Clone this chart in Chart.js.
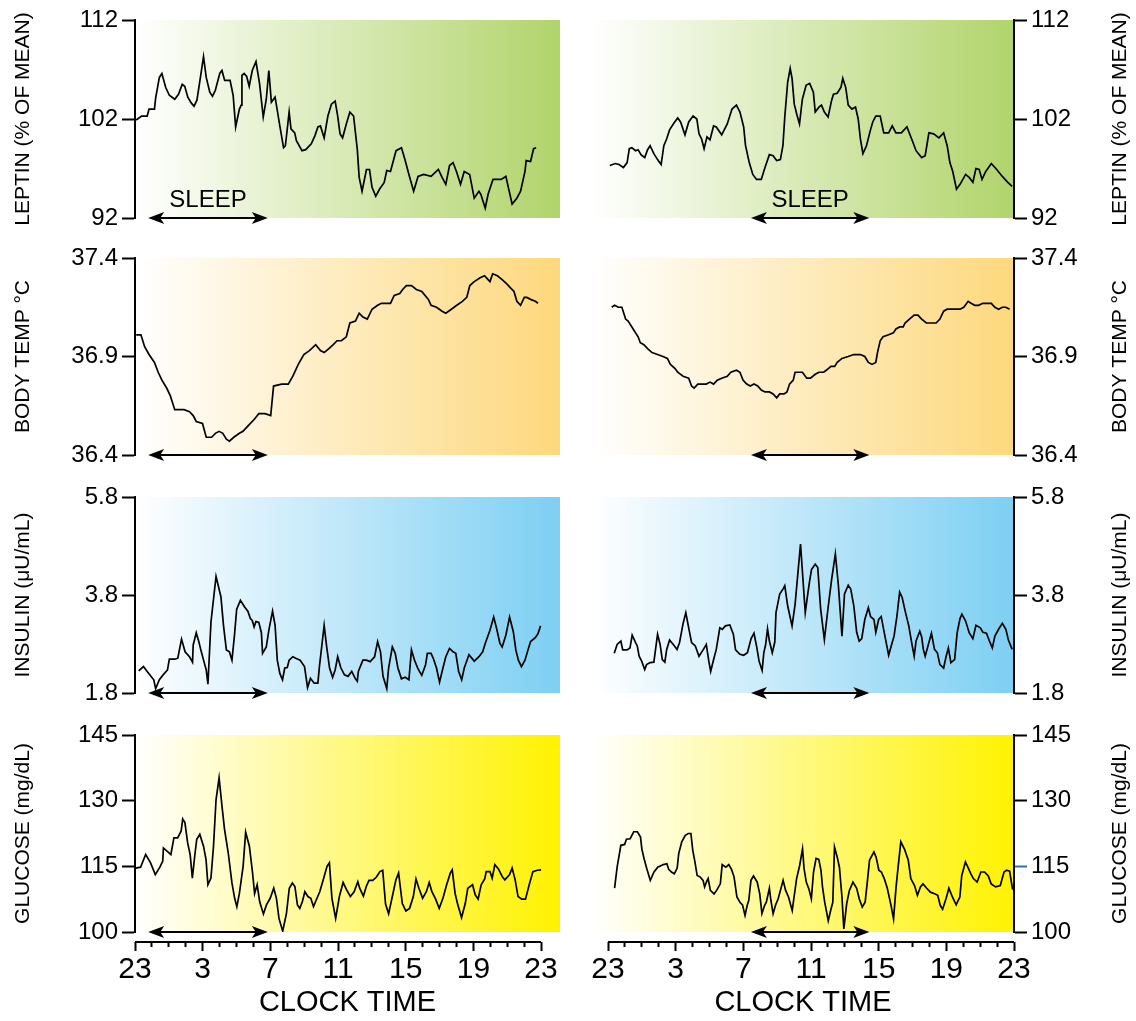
<!DOCTYPE html>
<html>
<head>
<meta charset="utf-8">
<script src="https://cdn.jsdelivr.net/npm/chart.js@4.4.1/dist/chart.umd.min.js"></script>
<style>
html, body { margin: 0; padding: 0; background: #fff; }
#wrap { position: relative; width: 1136px; height: 1021px; overflow: hidden; }
canvas { position: absolute; }
</style>
</head>
<body>
<div id="wrap"></div>
<script>
Chart.defaults.font.family = '"Liberation Sans", Arial, Helvetica, sans-serif';
Chart.defaults.color = '#000';

// hours after 23:00, one tick each hour
var clockHours = [0,1,2,3,4,5,6,7,8,9,10,11,12,13,14,15,16,17,18,19,20,21,22,23,24];
var clockLabels = ['23','3','7','11','15','19','23'];

var leptinTicks = [92, 102, 112];
var tempTicks = [36.4, 36.9, 37.4];
var insulinTicks = [1.8, 3.8, 5.8];
var glucoseTicks = [100, 115, 130, 145];

// sleep periods (hours after 23:00)
var sleepNight = [0.78, 7.85];
var sleepDay = [8.45, 15.45];

// [hours after 23:00, value]
var leptinNight = [[0.07,101.9],[0.39,102.3],[0.72,102.3],[0.83,103.0],[1.15,103.0],[1.22,104.1],[1.44,106.2],[1.59,106.6],[1.81,105.2],[2.03,104.4],[2.35,104.0],[2.57,104.5],[2.79,105.5],[2.94,105.3],[3.12,104.2],[3.33,103.6],[3.49,103.3],[3.66,103.9],[3.84,105.9],[4.05,108.3],[4.21,106.2],[4.42,104.7],[4.58,104.3],[4.75,104.9],[5.01,106.6],[5.14,106.9],[5.30,105.9],[5.62,105.9],[5.80,104.4],[5.95,101.2],[6.17,103.0],[6.28,103.4],[6.32,106.4],[6.45,106.6],[6.60,106.3],[6.75,105.3],[6.93,106.9],[7.15,107.8],[7.36,105.6],[7.58,102.2],[7.76,104.0],[7.91,106.9],[8.06,103.7],[8.28,104.2],[8.56,101.3],[8.78,99.1],[8.89,99.3],[9.11,102.7],[9.22,101.0],[9.44,100.6],[9.54,99.8],[9.87,98.8],[10.09,98.9],[10.42,99.5],[10.63,100.3],[10.81,101.2],[10.96,101.3],[11.18,100.1],[11.40,102.3],[11.61,103.5],[11.83,103.8],[11.98,102.3],[12.12,100.5],[12.27,100.1],[12.49,101.5],[12.70,102.7],[12.92,102.3],[13.14,98.9],[13.25,96.1],[13.42,94.7],[13.68,96.9],[13.86,96.9],[14.01,95.1],[14.23,94.2],[14.45,94.9],[14.73,95.6],[14.88,96.8],[15.10,96.7],[15.43,98.8],[15.75,99.1],[15.97,97.8],[16.19,96.4],[16.47,94.7],[16.73,96.2],[17.06,96.4],[17.50,96.2],[17.93,96.9],[18.15,96.1],[18.37,95.4],[18.59,97.3],[18.80,97.6],[19.02,96.6],[19.24,95.4],[19.46,96.7],[19.78,96.4],[20.05,94.0],[20.33,94.7],[20.44,94.4],[20.70,93.0],[20.87,94.4],[21.16,95.9],[21.64,95.9],[21.92,96.2],[22.29,93.4],[22.57,94.0],[22.79,94.7],[23.05,96.7],[23.12,97.8],[23.38,97.7],[23.56,99.0],[23.71,99.1]];
var leptinDay = [[0.11,97.3],[0.43,97.5],[0.65,97.4],[0.91,97.1],[1.13,97.6],[1.26,99.0],[1.41,99.1],[1.63,98.8],[1.78,98.9],[1.95,98.4],[2.17,98.1],[2.34,98.9],[2.49,99.3],[2.71,98.5],[2.93,97.9],[3.14,97.4],[3.30,99.3],[3.47,100.0],[3.64,100.9],[3.90,101.6],[4.12,102.1],[4.29,101.7],[4.55,100.4],[4.77,101.7],[5.03,102.3],[5.25,102.0],[5.38,100.5],[5.53,100.0],[5.68,99.0],[5.85,100.2],[6.03,99.9],[6.24,101.3],[6.40,101.2],[6.72,100.4],[7.05,101.5],[7.33,103.0],[7.59,103.4],[7.80,102.7],[8.02,101.2],[8.13,99.3],[8.35,97.6],[8.56,96.4],[8.78,95.9],[9.06,95.9],[9.28,97.1],[9.54,98.4],[9.76,98.3],[9.97,97.8],[10.19,97.9],[10.34,99.3],[10.45,102.2],[10.62,105.7],[10.77,107.1],[10.88,106.1],[11.01,103.5],[11.17,102.4],[11.32,101.5],[11.49,104.0],[11.71,105.4],[11.92,105.6],[12.14,104.7],[12.25,102.7],[12.47,103.2],[12.62,103.4],[12.79,102.7],[13.01,102.2],[13.22,103.9],[13.33,104.5],[13.55,104.6],[13.77,105.2],[13.88,106.1],[14.05,105.2],[14.20,103.4],[14.42,103.0],[14.63,103.2],[14.79,102.0],[14.92,100.0],[15.07,98.5],[15.28,99.3],[15.50,100.8],[15.65,101.7],[15.83,102.3],[16.09,102.3],[16.30,100.6],[16.59,100.6],[16.80,101.3],[17.02,100.6],[17.34,100.6],[17.67,101.2],[17.99,99.8],[18.21,98.8],[18.54,98.1],[18.75,98.3],[18.97,100.6],[19.25,100.5],[19.56,100.1],[19.84,100.6],[20.05,99.3],[20.21,97.6],[20.38,96.7],[20.60,94.9],[20.81,95.4],[21.14,96.4],[21.35,96.1],[21.57,95.6],[21.75,97.0],[21.94,96.9],[22.11,95.9],[22.33,96.7],[22.66,97.5],[22.98,96.9],[23.31,96.2],[23.63,95.6],[23.89,95.2]];

var tempNight = [[0.07,37.01],[0.35,37.01],[0.57,36.95],[0.83,36.91],[1.15,36.87],[1.37,36.82],[1.59,36.78],[1.87,36.74],[2.09,36.70],[2.35,36.63],[2.90,36.63],[3.22,36.62],[3.44,36.60],[3.62,36.57],[3.99,36.56],[4.21,36.49],[4.53,36.49],[4.75,36.51],[4.97,36.52],[5.19,36.51],[5.40,36.48],[5.58,36.47],[5.84,36.49],[6.17,36.51],[6.38,36.52],[6.71,36.55],[7.04,36.58],[7.32,36.61],[7.69,36.61],[8.02,36.60],[8.19,36.75],[8.67,36.76],[9.06,36.76],[9.33,36.80],[9.65,36.86],[9.98,36.91],[10.31,36.93],[10.68,36.96],[10.96,36.93],[11.18,36.92],[11.46,36.94],[11.72,36.96],[11.94,36.98],[12.20,36.98],[12.49,37.00],[12.70,37.07],[13.03,37.08],[13.25,37.12],[13.47,37.10],[13.73,37.09],[14.01,37.14],[14.34,37.16],[14.56,37.17],[15.10,37.17],[15.32,37.21],[15.65,37.22],[15.82,37.24],[16.04,37.26],[16.34,37.26],[16.63,37.24],[16.95,37.23],[17.34,37.19],[17.50,37.16],[17.82,37.15],[18.15,37.13],[18.37,37.12],[18.70,37.14],[19.02,37.16],[19.35,37.18],[19.61,37.20],[19.79,37.26],[20.05,37.28],[20.40,37.30],[20.66,37.31],[20.87,37.29],[20.98,37.28],[21.14,37.32],[21.42,37.31],[21.70,37.29],[21.96,37.27],[22.18,37.25],[22.40,37.23],[22.57,37.18],[22.79,37.16],[23.01,37.20],[23.16,37.20],[23.38,37.19],[23.66,37.18],[23.82,37.17]];
var tempDay = [[0.22,37.15],[0.39,37.16],[0.61,37.15],[0.82,37.15],[1.04,37.09],[1.19,37.08],[1.41,37.05],[1.63,37.02],[1.78,37.00],[1.91,36.97],[2.12,36.96],[2.34,36.94],[2.60,36.92],[2.93,36.91],[3.25,36.90],[3.51,36.89],[3.69,36.86],[3.95,36.84],[4.12,36.82],[4.44,36.80],[4.77,36.79],[4.94,36.75],[5.09,36.74],[5.31,36.76],[5.53,36.76],[5.81,36.76],[6.03,36.77],[6.24,36.76],[6.46,36.78],[6.72,36.79],[7.05,36.80],[7.26,36.82],[7.59,36.83],[7.80,36.82],[7.98,36.78],[8.20,36.76],[8.41,36.75],[8.63,36.76],[8.85,36.75],[9.06,36.73],[9.28,36.72],[9.54,36.72],[9.76,36.71],[9.97,36.69],[10.15,36.71],[10.41,36.71],[10.58,36.72],[10.73,36.76],[10.95,36.78],[11.06,36.82],[11.49,36.82],[11.75,36.79],[11.97,36.79],[12.25,36.81],[12.47,36.82],[12.75,36.82],[12.90,36.83],[13.18,36.85],[13.40,36.85],[13.55,36.87],[13.83,36.89],[14.20,36.90],[14.53,36.91],[14.92,36.91],[15.18,36.90],[15.39,36.87],[15.61,36.86],[15.83,36.87],[15.93,36.92],[16.09,36.98],[16.26,37.00],[16.59,37.01],[16.87,37.02],[17.02,37.04],[17.24,37.05],[17.45,37.05],[17.56,37.07],[17.82,37.09],[18.10,37.11],[18.32,37.11],[18.54,37.09],[18.82,37.07],[19.08,37.07],[19.40,37.07],[19.62,37.09],[19.84,37.13],[20.05,37.14],[20.38,37.14],[20.81,37.14],[21.03,37.15],[21.29,37.18],[21.46,37.17],[21.68,37.16],[21.90,37.16],[22.16,37.17],[22.66,37.17],[22.87,37.15],[23.09,37.14],[23.31,37.15],[23.52,37.15],[23.74,37.14]];

var insulinNight = [[0.22,2.25],[0.50,2.34],[0.72,2.24],[0.94,2.14],[1.11,2.07],[1.22,1.89],[1.44,2.07],[1.66,2.17],[1.92,2.27],[2.03,2.49],[2.35,2.49],[2.53,2.51],[2.75,2.90],[2.96,2.64],[3.22,2.54],[3.40,2.43],[3.44,2.78],[3.62,3.03],[3.77,2.85],[3.92,2.64],[4.10,2.41],[4.21,2.27],[4.31,1.98],[4.49,3.25],[4.79,4.18],[5.08,3.76],[5.23,3.18],[5.40,2.68],[5.58,2.64],[5.73,2.47],[5.88,2.98],[6.01,3.51],[6.23,3.69],[6.49,3.55],[6.67,3.47],[6.82,3.32],[6.93,3.28],[7.04,3.15],[7.15,3.26],[7.32,3.24],[7.47,3.03],[7.54,2.61],[7.76,2.74],[7.91,3.08],[8.13,3.47],[8.28,3.18],[8.41,2.47],[8.56,2.20],[8.72,2.07],[8.85,2.31],[9.00,2.32],[9.11,2.47],[9.33,2.54],[9.50,2.51],[9.76,2.47],[10.02,2.34],[10.20,1.91],[10.37,2.10],[10.59,2.00],[10.81,2.00],[10.90,2.34],[11.18,3.18],[11.33,2.74],[11.50,2.31],[11.68,2.12],[11.83,2.27],[11.98,2.54],[12.16,2.32],[12.38,2.17],[12.59,2.14],[12.81,2.24],[13.03,2.09],[13.14,2.04],[13.20,2.24],[13.47,2.47],[13.68,2.47],[13.90,2.44],[14.16,2.54],[14.34,2.85],[14.51,2.64],[14.66,2.14],[14.88,1.89],[14.99,2.31],[15.21,2.74],[15.38,2.61],[15.54,2.31],[15.75,2.09],[15.97,2.12],[16.19,2.07],[16.34,2.68],[16.52,2.47],[16.73,2.29],[16.95,2.16],[17.17,2.37],[17.28,2.61],[17.50,2.61],[17.65,2.49],[17.82,2.31],[18.00,2.02],[18.15,2.24],[18.37,2.54],[18.59,2.71],[18.80,2.64],[18.96,2.61],[19.13,2.24],[19.31,2.07],[19.46,2.31],[19.74,2.58],[20.05,2.45],[20.33,2.54],[20.55,2.64],[20.70,2.81],[20.98,3.08],[21.20,3.35],[21.37,3.12],[21.57,2.81],[21.70,2.74],[21.92,2.98],[22.14,3.35],[22.36,3.05],[22.51,2.68],[22.66,2.47],[22.84,2.34],[23.05,2.47],[23.23,2.68],[23.38,2.85],[23.66,2.93],[23.82,3.01],[23.97,3.17]];
var insulinDay = [[0.37,2.61],[0.54,2.79],[0.76,2.86],[0.87,2.68],[1.13,2.68],[1.30,2.72],[1.43,2.98],[1.63,2.83],[1.73,2.76],[1.84,2.55],[1.99,2.45],[2.17,2.28],[2.28,2.38],[2.49,2.42],[2.71,2.43],[2.78,2.61],[2.93,3.00],[3.08,2.79],[3.21,2.48],[3.36,2.43],[3.47,2.69],[3.64,2.88],[3.86,2.79],[4.08,2.69],[4.23,2.83],[4.44,3.22],[4.60,3.44],[4.77,3.13],[4.94,2.83],[5.16,2.76],[5.38,2.55],[5.64,2.69],[5.81,2.79],[5.96,2.45],[6.07,2.24],[6.24,2.48],[6.40,2.69],[6.61,3.13],[6.76,3.10],[6.94,3.17],[7.20,3.19],[7.41,3.00],[7.54,2.68],[7.80,2.59],[8.02,2.57],[8.24,2.62],[8.46,2.91],[8.63,3.02],[8.78,2.76],[8.93,2.45],[9.11,2.26],[9.21,2.62],[9.32,2.79],[9.43,3.11],[9.54,2.86],[9.71,2.62],[9.86,2.84],[9.93,3.44],[10.15,3.82],[10.36,3.93],[10.45,3.99],[10.62,3.58],[10.88,3.17],[11.06,3.61],[11.38,4.84],[11.66,3.44],[11.82,3.85],[11.92,4.09],[12.03,4.32],[12.25,4.43],[12.40,4.36],[12.57,3.51],[12.79,2.89],[13.01,3.54],[13.22,4.12],[13.44,4.64],[13.62,3.99],[13.83,2.96],[13.98,3.82],[14.20,4.00],[14.35,3.92],[14.53,3.58],[14.70,3.04],[14.85,2.86],[15.00,2.91],[15.18,3.30],[15.39,3.54],[15.52,3.36],[15.72,3.30],[15.83,3.04],[16.00,3.30],[16.15,3.36],[16.37,2.96],[16.59,2.57],[16.80,2.83],[16.91,2.96],[17.08,3.37],[17.24,3.86],[17.39,3.75],[17.56,3.48],[17.78,3.17],[17.95,2.83],[18.10,2.55],[18.21,2.86],[18.43,3.06],[18.54,2.95],[18.64,2.69],[18.75,2.55],[18.97,2.83],[19.12,3.02],[19.30,2.69],[19.47,2.62],[19.62,2.38],[19.84,2.31],[19.99,2.55],[20.12,2.72],[20.27,2.42],[20.49,2.48],[20.64,3.03],[20.81,3.32],[20.92,3.41],[21.14,3.27],[21.35,3.03],[21.57,2.91],[21.75,3.18],[22.01,3.13],[22.16,3.04],[22.37,3.02],[22.55,2.86],[22.72,2.72],[22.87,2.96],[23.09,3.10],[23.31,3.22],[23.52,3.10],[23.67,2.88],[23.89,2.69]];

var glucoseNight = [[0.04,114.6],[0.33,114.8],[0.63,117.7],[0.92,115.8],[1.20,113.1],[1.47,114.8],[1.64,116.2],[1.68,119.2],[2.01,118.1],[2.12,117.7],[2.30,121.5],[2.52,121.5],[2.73,123.1],[2.82,125.8],[2.95,125.0],[3.11,120.4],[3.26,117.7],[3.39,112.3],[3.54,117.7],[3.65,121.2],[3.83,122.3],[4.05,119.6],[4.20,116.5],[4.31,110.8],[4.49,112.3],[4.64,119.6],[4.79,130.2],[4.97,135.2],[5.14,128.8],[5.29,123.5],[5.51,118.1],[5.73,111.2],[5.89,107.7],[6.02,105.8],[6.17,108.8],[6.39,115.0],[6.54,122.8],[6.76,119.6],[6.94,113.8],[7.07,108.8],[7.22,110.8],[7.37,106.9],[7.59,104.1],[7.77,106.2],[7.99,107.7],[8.20,110.0],[8.36,107.7],[8.51,103.1],[8.73,100.2],[8.95,104.2],[9.12,110.0],[9.30,111.2],[9.45,110.4],[9.60,106.2],[9.74,105.4],[9.89,106.9],[10.04,109.2],[10.22,108.1],[10.39,107.7],[10.55,105.8],[10.70,107.2],[10.92,109.2],[11.14,112.1],[11.35,115.0],[11.49,115.8],[11.64,107.7],[11.86,103.1],[12.08,108.1],[12.30,111.3],[12.51,109.6],[12.73,108.1],[12.95,109.2],[13.17,111.5],[13.28,110.0],[13.50,108.2],[13.67,110.4],[13.83,111.8],[14.05,111.8],[14.26,112.5],[14.48,113.8],[14.64,114.1],[14.81,106.4],[14.99,104.2],[15.21,108.1],[15.42,111.9],[15.58,113.5],[15.80,106.5],[16.01,104.8],[16.23,105.4],[16.45,108.1],[16.61,112.1],[16.78,110.0],[17.00,107.7],[17.22,109.2],[17.39,111.3],[17.55,109.2],[17.77,107.5],[17.98,105.4],[18.20,107.7],[18.42,110.8],[18.64,113.5],[18.75,114.2],[18.92,108.8],[19.08,106.2],[19.30,103.3],[19.52,106.5],[19.67,110.0],[19.95,110.8],[20.11,108.5],[20.28,107.5],[20.46,110.8],[20.67,112.1],[20.76,113.8],[20.98,113.8],[21.11,112.3],[21.27,115.4],[21.48,114.4],[21.70,112.7],[21.86,111.9],[22.14,113.1],[22.29,114.6],[22.47,111.9],[22.64,108.1],[22.86,107.5],[23.08,107.5],[23.30,110.8],[23.52,113.8],[23.78,114.1],[24.00,114.2]];
var glucoseDay = [[0.39,110.0],[0.54,114.8],[0.76,119.8],[0.98,120.0],[1.09,121.2],[1.31,121.3],[1.52,122.9],[1.74,122.9],[1.92,121.7],[2.00,119.0],[2.13,116.8],[2.29,114.5],[2.50,111.8],[2.72,113.7],[2.94,114.8],[3.27,115.4],[3.48,115.6],[3.59,114.3],[3.75,113.7],[3.92,113.3],[4.09,114.6],[4.18,117.9],[4.36,120.6],[4.57,122.1],[4.75,122.5],[4.90,122.5],[5.01,118.7],[5.12,116.4],[5.27,112.9],[5.44,112.6],[5.62,111.8],[5.71,110.3],[5.84,111.6],[5.92,112.2],[6.05,109.5],[6.27,108.7],[6.42,109.5],[6.64,111.0],[6.75,115.4],[6.97,114.8],[7.14,115.4],[7.30,114.3],[7.45,112.6],[7.62,108.0],[7.80,106.8],[7.95,106.2],[8.10,103.8],[8.23,106.1],[8.32,107.2],[8.45,111.8],[8.60,112.8],[8.82,111.4],[8.97,108.7],[9.10,104.2],[9.26,106.1],[9.36,106.8],[9.54,110.0],[9.63,107.2],[9.76,104.2],[9.91,106.2],[10.06,107.6],[10.19,109.5],[10.35,111.8],[10.50,109.5],[10.67,108.0],[10.89,104.9],[11.00,108.0],[11.15,112.2],[11.33,115.2],[11.50,119.0],[11.59,114.5],[11.72,111.4],[11.87,109.9],[12.02,107.6],[12.15,113.7],[12.30,116.8],[12.46,116.6],[12.59,114.1],[12.68,110.3],[12.81,106.8],[13.02,102.6],[13.18,105.2],[13.29,106.8],[13.39,119.4],[13.55,117.1],[13.68,114.8],[13.83,108.0],[13.94,100.7],[14.11,106.5],[14.27,109.5],[14.48,111.4],[14.70,110.0],[14.85,107.6],[15.03,105.7],[15.20,106.8],[15.35,112.2],[15.46,116.4],[15.64,117.7],[15.72,118.3],[15.85,117.1],[16.01,114.1],[16.16,113.7],[16.33,112.2],[16.51,110.0],[16.73,106.1],[16.88,103.0],[17.03,110.3],[17.16,115.2],[17.31,120.6],[17.53,118.9],[17.75,116.4],[17.90,112.2],[18.12,110.6],[18.29,108.4],[18.47,110.3],[18.62,111.0],[18.84,110.0],[19.06,109.1],[19.34,108.7],[19.49,108.4],[19.64,106.1],[19.78,105.2],[19.99,107.7],[20.15,110.0],[20.36,108.0],[20.58,106.2],[20.80,108.0],[20.91,112.9],[21.13,116.0],[21.30,114.6],[21.45,113.3],[21.60,112.2],[21.82,111.4],[22.04,113.7],[22.26,113.7],[22.48,112.8],[22.65,111.0],[22.91,110.3],[23.19,110.6],[23.41,113.7],[23.56,114.1],[23.74,113.9],[23.91,109.9],[24.00,109.7]];

var rows = [
  { title: 'LEPTIN (% OF MEAN)', ticks: leptinTicks, dec: 0, color: '#b1d46b', night: leptinNight, day: leptinDay, top: 20, bottom: 218, sleepText: true },
  { title: 'BODY TEMP °C', ticks: tempTicks, dec: 1, color: '#fdd87c', night: tempNight, day: tempDay, top: 258, bottom: 455 },
  { title: 'INSULIN (μU/mL)', ticks: insulinTicks, dec: 1, color: '#7dcff3', night: insulinNight, day: insulinDay, top: 497, bottom: 693 },
  { title: 'GLUCOSE (mg/dL)', ticks: glucoseTicks, dec: 0, color: '#fff200', night: glucoseNight, day: glucoseDay, top: 735, bottom: 932, last: true, blueTick: 115 }
];

var FONT = '"Liberation Sans", Arial, Helvetica, sans-serif';

function arrowHead(ctx, x, y, dir) {
  ctx.beginPath();
  ctx.moveTo(x, y);
  ctx.lineTo(x - dir * 16, y - 6);
  ctx.lineTo(x - dir * 12, y);
  ctx.lineTo(x - dir * 16, y + 6);
  ctx.closePath();
  ctx.fill();
}

var decor = {
  id: 'decor',
  beforeDraw: function(chart, args, o) {
    var ctx = chart.ctx, a = chart.chartArea, y = chart.scales.y;
    var top = y.getPixelForValue(y.max), bot = y.getPixelForValue(y.min);
    var g = ctx.createLinearGradient(a.left, 0, a.right, 0);
    g.addColorStop(0, '#ffffff');
    g.addColorStop(1, o.color);
    ctx.save();
    ctx.fillStyle = g;
    ctx.fillRect(a.left, top, a.right - a.left, bot - top);
    ctx.restore();
  },
  afterDraw: function(chart, args, o) {
    var ctx = chart.ctx, a = chart.chartArea, x = chart.scales.x, y = chart.scales.y;
    var yb = y.getPixelForValue(y.min);
    var x0 = x.getPixelForValue(o.sleep[0]), x1 = x.getPixelForValue(o.sleep[1]);
    ctx.save();
    ctx.strokeStyle = '#000';
    ctx.fillStyle = '#000';
    ctx.lineWidth = 2;
    ctx.beginPath();
    ctx.moveTo(x0 + 10, yb);
    ctx.lineTo(x1 - 10, yb);
    ctx.stroke();
    arrowHead(ctx, x0, yb, -1);
    arrowHead(ctx, x1, yb, 1);
    if (o.sleepText) {
      ctx.font = '24px ' + FONT;
      ctx.textAlign = 'center';
      ctx.textBaseline = 'alphabetic';
      ctx.fillText('SLEEP', (x0 + x1) / 2, yb - 11);
    }
    if (o.axisLine) {
      ctx.beginPath();
      ctx.moveTo(x.getPixelForValue(0), a.bottom + 10);
      ctx.lineTo(x.getPixelForValue(24), a.bottom + 10);
      ctx.stroke();
    }
    if (o.rightTitle) {
      ctx.translate(chart.width - 16, (a.top + a.bottom) / 2);
      ctx.rotate(-Math.PI / 2);
      ctx.font = '21px ' + FONT;
      ctx.textAlign = 'center';
      ctx.textBaseline = 'middle';
      ctx.fillText(o.rightTitle, 0, 0);
    }
    ctx.restore();
  }
};

var wrap = document.getElementById('wrap');

function makePanel(row, right) {
  var left = right ? 580 : 0;
  var w = right ? 556 : 560;
  var top = row.top - 20;
  var h = row.last ? 1021 - top : (row.bottom - row.top) + 40;
  var cv = document.createElement('canvas');
  cv.width = w;
  cv.height = h;
  cv.style.left = left + 'px';
  cv.style.top = top + 'px';
  cv.style.width = w + 'px';
  cv.style.height = h + 'px';
  wrap.appendChild(cv);

  var series = right ? row.day : row.night;
  var tks = row.ticks;

  new Chart(cv, {
    type: 'line',
    data: {
      datasets: [{
        data: series.map(function(p) { return { x: p[0], y: p[1] }; }),
        borderColor: '#000',
        borderWidth: 1.7,
        pointRadius: 0,
        tension: 0,
        fill: false
      }]
    },
    options: {
      responsive: false,
      animation: false,
      events: [],
      layout: { padding: { top: 20, bottom: row.last ? 0 : 20, left: right ? 12 : 0, right: 0 } },
      plugins: {
        legend: { display: false },
        tooltip: { enabled: false },
        decor: {
          color: row.color,
          sleep: right ? sleepDay : sleepNight,
          sleepText: !!row.sleepText,
          axisLine: !!row.last,
          rightTitle: right ? row.title : null
        }
      },
      scales: {
        x: {
          type: 'linear',
          display: !!row.last,
          min: right ? -0.946 : 0,
          max: right ? 24 : 25.12,
          afterBuildTicks: function(axis) {
            axis.ticks = clockHours.map(function(v) { return { value: v }; });
          },
          afterFit: function(axis) { axis.height = row.last ? 89 : 0; },
          border: { display: false },
          grid: {
            drawOnChartArea: false,
            tickLength: 19,
            tickWidth: 2,
            tickColor: '#000',
            tickBorderDash: function(c) {
              if (c.tick && c.tick.value % 4 === 0) return [0, 10, 9, 40];
              return [0, 10, 5, 40];
            }
          },
          ticks: {
            autoSkip: false,
            maxRotation: 0,
            padding: 1,
            color: '#000',
            font: { size: 30 },
            callback: function(v) { return v % 4 === 0 ? clockLabels[v / 4] : ''; }
          },
          title: {
            display: true,
            text: 'CLOCK TIME',
            color: '#000',
            font: { size: 29 },
            padding: { top: 0, bottom: 1 }
          }
        },
        y: {
          position: right ? 'right' : 'left',
          min: tks[0],
          max: tks[tks.length - 1],
          afterBuildTicks: function(axis) {
            axis.ticks = tks.map(function(v) { return { value: v }; });
          },
          afterFit: function(axis) { axis.width = right ? 122 : 135; },
          border: { color: '#000', width: 2 },
          grid: {
            drawOnChartArea: false,
            tickLength: 13,
            tickWidth: 2,
            tickColor: function(c) {
              if (right && row.blueTick && c.tick && c.tick.value === row.blueTick) return '#2f6fb5';
              return '#000';
            }
          },
          ticks: {
            padding: 4,
            color: '#000',
            font: { size: 24 },
            callback: function(v) { return Number(v).toFixed(row.dec); }
          },
          title: {
            display: !right,
            text: row.title,
            color: '#000',
            font: { size: 21 },
            padding: { top: 11, bottom: 0 }
          }
        }
      }
    },
    plugins: [decor]
  });
}

rows.forEach(function(r) {
  makePanel(r, false);
  makePanel(r, true);
});
</script>
</body>
</html>
